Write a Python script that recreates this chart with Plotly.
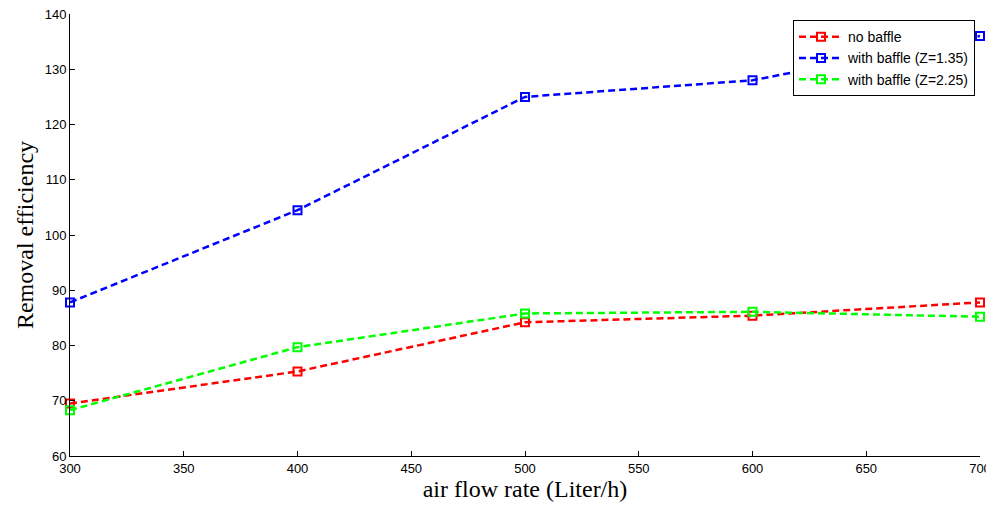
import plotly.graph_objects as go

flow = [300, 400, 500, 600, 700]
no_baffle = [69.5, 75.3, 84.2, 85.4, 87.8]
baffle_135 = [87.8, 104.5, 125.0, 128.0, 136.0]
baffle_225 = [68.3, 79.7, 85.8, 86.1, 85.2]

series = [
    ("no baffle", no_baffle, "#ff0000"),
    ("with baffle (Z=1.35)", baffle_135, "#0000ff"),
    ("with baffle (Z=2.25)", baffle_225, "#00ff00"),
]

fig = go.Figure()
for name, vals, col in series:
    fig.add_trace(go.Scatter(
        x=flow, y=vals, name=name, mode="lines+markers",
        line=dict(color=col, width=2.5, dash="7px,4px"),
        marker=dict(symbol="square-open", size=8, color=col, line=dict(width=2, color=col)),
        cliponaxis=False,
    ))

fig.update_layout(
    width=994, height=512,
    margin=dict(l=62, r=22, t=6, b=64),
    plot_bgcolor="white", paper_bgcolor="white",
    font=dict(family="Liberation Sans, Arial", size=13, color="black"),
    showlegend=True,
    legend=dict(x=0.7945, y=0.986, xanchor="left", yanchor="top",
                bgcolor="white", bordercolor="black", borderwidth=1,
                font=dict(family="Liberation Sans, Arial", size=14),
                tracegroupgap=0, itemwidth=44),
)
fig.update_xaxes(
    range=[300, 700], dtick=50, tick0=300, ticks="inside", ticklen=5,
    tickcolor="black", showline=True, linecolor="black", linewidth=1,
    showgrid=False, zeroline=False, mirror=False, automargin=False,
    tickfont=dict(size=13), ticklabeloverflow="allow",
    title=dict(text="air flow rate (Liter/h)", font=dict(family="Liberation Serif, Times New Roman", size=24), standoff=4),
)
fig.update_yaxes(
    range=[60, 140], dtick=10, tick0=60, ticks="inside", ticklen=5,
    tickcolor="black", showline=True, linecolor="black", linewidth=1,
    showgrid=False, zeroline=False, mirror=False, automargin=False,
    tickfont=dict(size=13), ticklabeloverflow="allow",
    title=dict(text="Removal efficiency", font=dict(family="Liberation Serif, Times New Roman", size=24), standoff=4),
)
fig.write_html("out.html")
